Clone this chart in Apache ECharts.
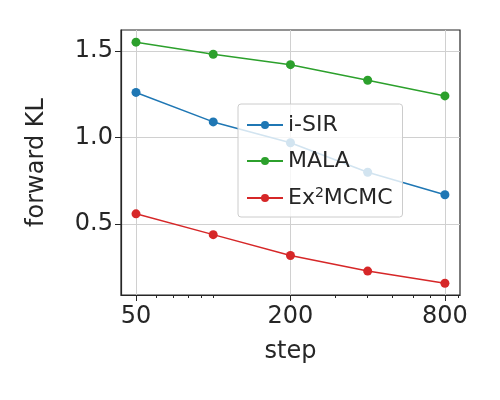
<!DOCTYPE html>
<html>
<head>
<meta charset="utf-8">
<script src="https://cdn.jsdelivr.net/npm/echarts@6/dist/echarts.min.js"></script>
<style>html,body{margin:0;padding:0;background:#fff}#main{width:500px;height:400px}</style>
</head>
<body>
<div id="main"></div>
<script>
var steps = [50, 100, 200, 400, 800];
var isir = [1.26, 1.09, 0.97, 0.80, 0.67];
var mala = [1.55, 1.48, 1.42, 1.33, 1.24];
var ex2 = [0.56, 0.44, 0.32, 0.23, 0.16];
var majorTicks = [50, 200, 800];
var minorTicks = [60, 70, 80, 90, 100, 300, 400, 500, 600, 700, 900];
var yTicks = [0.5, 1.0, 1.5];

function pairs(ys) { return steps.map(function (s, i) { return [s, ys[i]]; }); }

var chart = echarts.init(document.getElementById('main'));
var font = 'DejaVu Sans';
function mk(name, color, ys) {
	return {
		name: name, type: 'line', data: pairs(ys),
		symbol: 'circle', symbolSize: 9,
		itemStyle: { color: color }, lineStyle: { color: color, width: 1.5 }
	};
}
chart.setOption({
	animation: false,
	textStyle: { fontFamily: font },
	grid: { left: 121, right: 40, top: 30, bottom: 105, show: true, borderColor: '#262626', borderWidth: 1.2 },
	xAxis: [{
		type: 'log', logBase: 2, min: 43.7, max: 916,
		name: 'step', nameLocation: 'middle', nameGap: 45,
		nameTextStyle: { fontSize: 24, color: '#262626' },
		axisLine: { show: true, onZero: false, lineStyle: { color: '#262626', width: 1.2 } },
		axisTick: { show: true, customValues: majorTicks, length: 6, lineStyle: { color: '#262626' } },
		axisLabel: { customValues: majorTicks, fontSize: 24, color: '#262626', margin: 10 },
		splitLine: { show: true, lineStyle: { color: '#d0d0d0' } }
	}, {
		type: 'log', logBase: 2, min: 43.7, max: 916, position: 'bottom',
		axisLine: { show: false },
		axisTick: { show: true, customValues: minorTicks, length: 3, lineStyle: { color: '#262626' } },
		axisLabel: { show: false }, splitLine: { show: false }
	}],
	yAxis: {
		type: 'value', min: 0.092, max: 1.62,
		name: 'forward KL', nameLocation: 'middle', nameGap: 72,
		nameTextStyle: { fontSize: 24, color: '#262626' },
		axisLine: { show: true, lineStyle: { color: '#262626', width: 1.2 } },
		axisTick: { show: true, customValues: yTicks, length: 6, lineStyle: { color: '#262626' } },
		axisLabel: { customValues: yTicks, fontSize: 24, color: '#262626', formatter: function (v) { return v.toFixed(1); } },
		splitLine: { show: true, lineStyle: { color: '#d0d0d0' } }
	},
	legend: {
		orient: 'vertical', left: 238, top: 104,
		backgroundColor: 'rgba(255,255,255,0.8)', borderColor: '#cccccc', borderWidth: 1, borderRadius: 3,
		padding: [10, 10, 8, 8], itemGap: 14, itemWidth: 36, itemHeight: 10,
		textStyle: {
			fontSize: 22, color: '#262626',
			rich: { sup: { fontSize: 14, verticalAlign: 'top', padding: [0, 0, 10, 0], color: '#262626' }, n: { fontSize: 22, color: '#262626' } }
		},
		formatter: function (n) { return n === 'Ex2MCMC' ? '{n|Ex}{sup|2}{n|MCMC}' : n; },
		data: ['i-SIR', 'MALA', 'Ex2MCMC']
	},
	series: [mk('i-SIR', '#1f77b4', isir), mk('MALA', '#2ca02c', mala), mk('Ex2MCMC', '#d62728', ex2)]
});
</script>
</body>
</html>
